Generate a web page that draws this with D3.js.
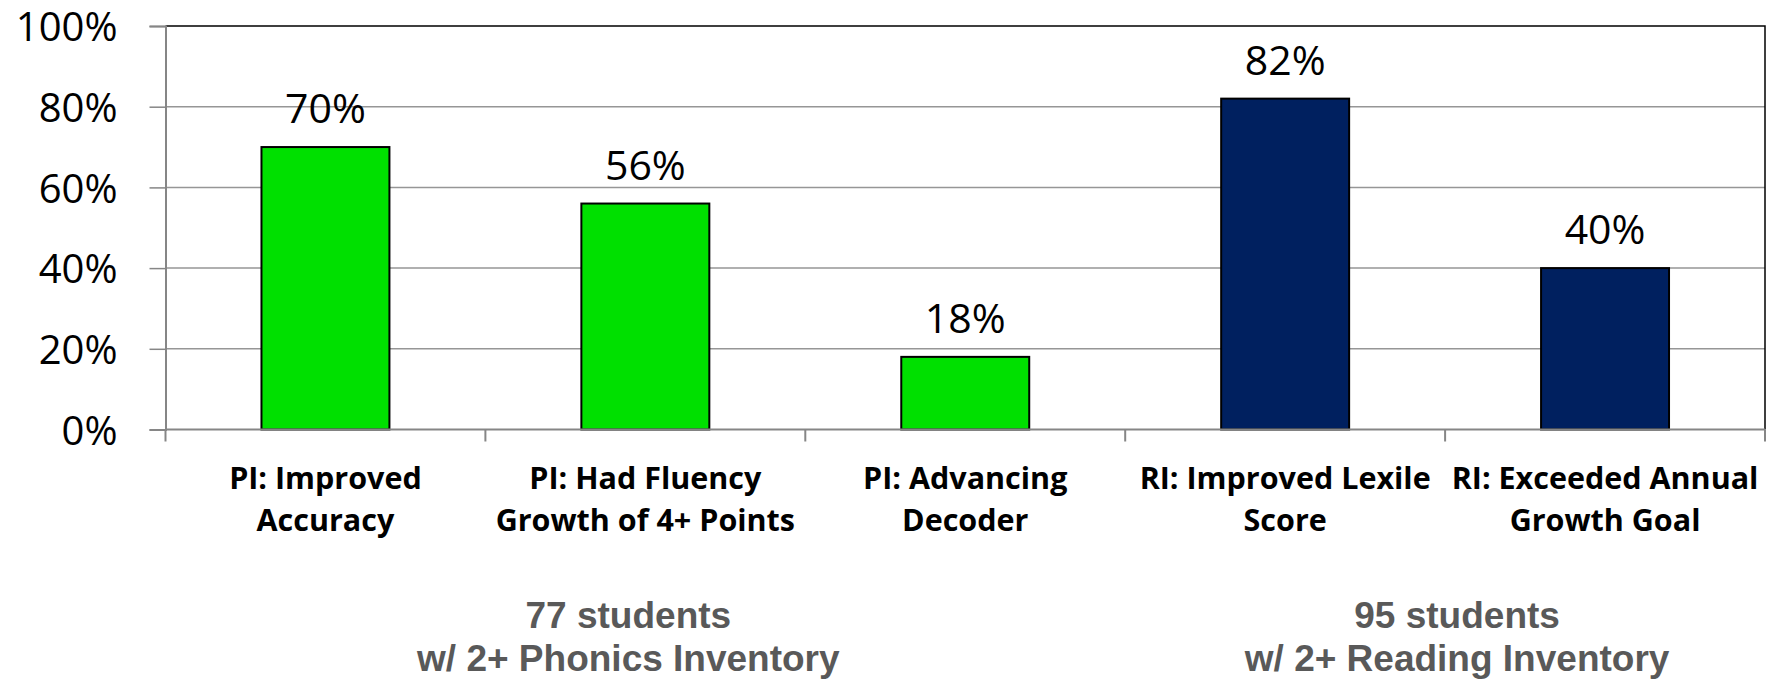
<!DOCTYPE html>
<html>
<head>
<meta charset="utf-8">
<script src="https://cdn.jsdelivr.net/npm/d3@7"></script>
<style>
  html, body { margin: 0; padding: 0; background: #fff; }
  svg { display: block; }
</style>
</head>
<body>
<svg id="chart" width="1779" height="680"></svg>
<script>
const categories = [
  ["PI: Improved", "Accuracy"],
  ["PI: Had Fluency", "Growth of 4+ Points"],
  ["PI: Advancing", "Decoder"],
  ["RI: Improved Lexile", "Score"],
  ["RI: Exceeded Annual", "Growth Goal"]
];
const values = [0.70, 0.56, 0.18, 0.82, 0.40];
const groups = [0, 0, 0, 1, 1];
const groupColors = ["#00E000", "#00205F"];
const yTicks = [0, 0.2, 0.4, 0.6, 0.8, 1.0];
const groupLabels = [
  { lines: ["77 students", "w/ 2+ Phonics Inventory"], first: 0, last: 2 },
  { lines: ["95 students", "w/ 2+ Reading Inventory"], first: 3, last: 4 }
];

(function () {
const svg = d3.select("#chart");
const pLeft = 165.5, pRight = 1765, pTop = 26, pBottom = 429.5;

const x = d3.scaleBand()
  .domain(d3.range(values.length))
  .range([pLeft, pRight])
  .paddingInner(0.6)
  .paddingOuter(0.3);
const step = x.step();
const y = d3.scaleLinear().domain([0, 1]).range([pBottom, pTop]);

// gridlines
svg.append("g").selectAll("line")
  .data(yTicks.filter(t => t > 0 && t < 1))
  .join("line")
  .attr("x1", pLeft).attr("x2", pRight)
  .attr("y1", d => y(d)).attr("y2", d => y(d))
  .attr("stroke", "#969696").attr("stroke-width", 1.5);

// plot border top/right
svg.append("path")
  .attr("d", `M${pLeft},${y(1)}H${pRight}V${y(0)}`)
  .attr("fill", "none").attr("stroke", "#000").attr("stroke-width", 1.5);

// bars
svg.append("g").selectAll("rect")
  .data(values)
  .join("rect")
  .attr("x", (d, i) => x(i))
  .attr("width", x.bandwidth())
  .attr("y", d => y(d))
  .attr("height", d => y(0) - y(d))
  .attr("fill", (d, i) => groupColors[groups[i]])
  .attr("stroke", "#000").attr("stroke-width", 2);

// y axis
const yAxis = d3.axisLeft(y).tickValues(yTicks).tickSize(16).tickPadding(32)
  .tickFormat(d3.format(".0%"));
const gy = svg.append("g").attr("transform", `translate(${pLeft},0)`).call(yAxis);
gy.select(".domain").attr("stroke", "#868686").attr("stroke-width", 2);
gy.selectAll(".tick line").attr("stroke", "#868686").attr("stroke-width", 1.5);
gy.selectAll(".tick text")
  .attr("font-family", "'Open Sans', sans-serif")
  .attr("font-size", 40)
  .attr("dy", "0.37em")
  .attr("fill", "#000");

// x axis line and ticks between categories
svg.append("line")
  .attr("x1", pLeft).attr("x2", pRight)
  .attr("y1", y(0)).attr("y2", y(0))
  .attr("stroke", "#868686").attr("stroke-width", 2);
svg.append("g").selectAll("line")
  .data(d3.range(values.length + 1))
  .join("line")
  .attr("x1", i => x.range()[0] + i * step)
  .attr("x2", i => x.range()[0] + i * step)
  .attr("y1", y(0)).attr("y2", y(0) + 12)
  .attr("stroke", "#868686").attr("stroke-width", 2);

// value labels
svg.append("g").selectAll("text")
  .data(values)
  .join("text")
  .attr("x", (d, i) => x(i) + x.bandwidth() / 2)
  .attr("y", d => y(d) - 24)
  .attr("text-anchor", "middle")
  .attr("font-family", "'Open Sans', sans-serif")
  .attr("font-size", 41)
  .attr("fill", "#000")
  .text(d => d3.format(".0%")(d));

// category labels
const cat = svg.append("g").selectAll("text")
  .data(categories)
  .join("text")
  .attr("text-anchor", "middle")
  .attr("font-family", "'Open Sans', sans-serif")
  .attr("font-weight", "bold")
  .attr("font-size", 30.5)
  .attr("fill", "#000");
cat.each(function(lines, i) {
  const t = d3.select(this);
  lines.forEach((ln, j) => {
    t.append("tspan")
      .attr("x", x(i) + x.bandwidth() / 2)
      .attr("y", 489 + j * 42)
      .text(ln);
  });
});

// group labels
const offsets = [-17, 12];
const gl = svg.append("g").selectAll("text")
  .data(groupLabels)
  .join("text")
  .attr("text-anchor", "middle")
  .attr("font-family", "'Liberation Sans', Arial, sans-serif")
  .attr("font-weight", "bold")
  .attr("font-size", 37)
  .attr("fill", "#595959");
gl.each(function(g, k) {
  const cx = (x(g.first) + x(g.last) + x.bandwidth()) / 2 + offsets[k];
  const t = d3.select(this);
  g.lines.forEach((ln, j) => {
    t.append("tspan").attr("x", cx).attr("y", 628 + j * 43).text(ln);
  });
});
})();
</script>
</body>
</html>
